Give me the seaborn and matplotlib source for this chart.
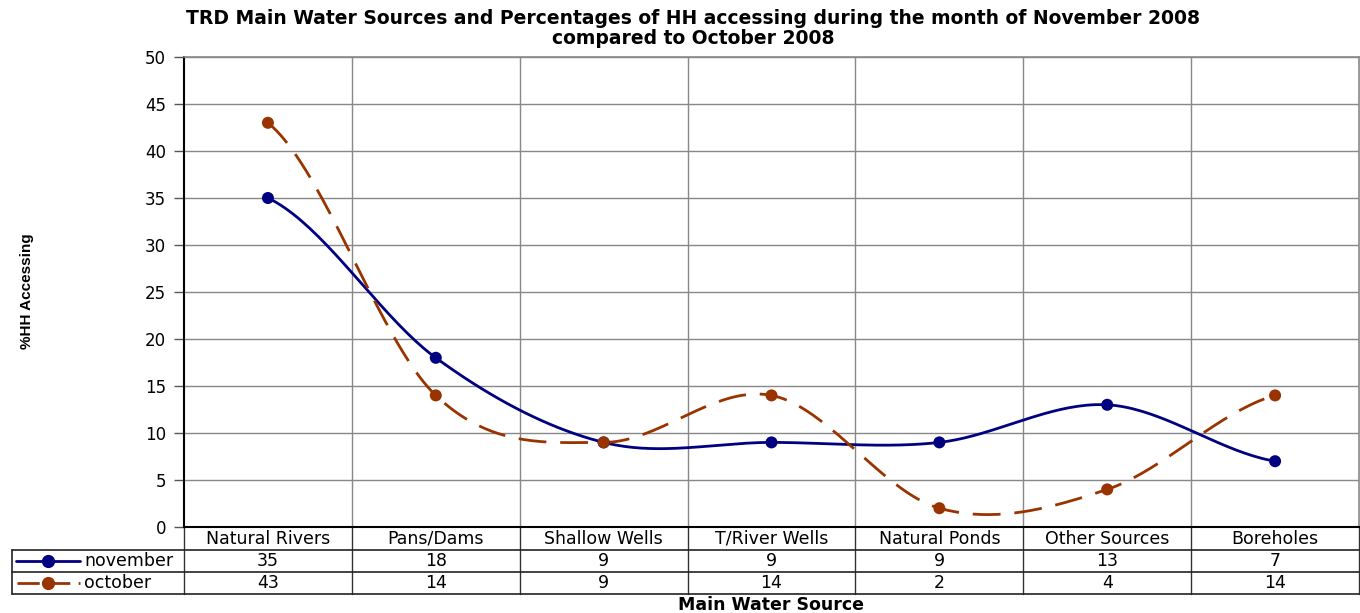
"""
TRD main water sources - November vs October 2008 (Excel-style smoothed lines + data table)
"""

import numpy as np
import pandas as pd
import matplotlib
matplotlib.use('Agg')
import matplotlib.pyplot as plt
import seaborn as sns

sns.set_style("white")
plt.rcParams['font.family'] = ['DejaVu Sans']
plt.rcParams['text.color'] = 'black'
plt.rcParams['ytick.labelcolor'] = 'black'

# Data
sources = ['Natural Rivers', 'Pans/Dams', 'Shallow Wells', 'T/River Wells',
           'Natural Ponds', 'Other Sources', 'Boreholes']
november = [35, 18, 9, 9, 9, 13, 7]
october = [43, 14, 9, 14, 2, 4, 14]
series_names = ['november', 'october']
y_ticks = [0, 5, 10, 15, 20, 25, 30, 35, 40, 45, 50]

nov_color = '#000080'
oct_color = '#993300'
oct_dash = (10, 5)


def smooth(values, steps=40):
    # Catmull-Rom curve through the points (Excel "smoothed line")
    p = np.asarray(values, dtype=float)
    n = len(p)
    ext = np.concatenate([[p[0]], p, [p[-1]]])
    xs, ys = [], []
    for i in range(n - 1):
        p0, p1, p2, p3 = ext[i], ext[i + 1], ext[i + 2], ext[i + 3]
        m1 = (p2 - p0) / 2.0
        m2 = (p3 - p1) / 2.0
        t = np.linspace(0, 1, steps, endpoint=(i == n - 2))
        h00 = 2 * t**3 - 3 * t**2 + 1
        h10 = t**3 - 2 * t**2 + t
        h01 = -2 * t**3 + 3 * t**2
        h11 = t**3 - t**2
        xs.append(i + t)
        ys.append(h00 * p1 + h10 * m1 + h01 * p2 + h11 * m2)
    return np.concatenate(xs), np.concatenate(ys)


fig = plt.figure(figsize=(13.6, 6.13), dpi=100)
ax = fig.add_axes([184 / 1360, 1 - 527 / 613, 1175 / 1360, 470 / 613])

x_pos = np.arange(len(sources))
pts = pd.DataFrame({'x': np.tile(x_pos, 2), 'value': november + october,
                    'series': np.repeat(series_names, len(sources))})

for name, vals, col, dash in [('november', november, nov_color, None),
                              ('october', october, oct_color, oct_dash)]:
    sx, sy = smooth(vals)
    curve = pd.DataFrame({'x': sx, 'y': sy})
    sns.lineplot(data=curve, x='x', y='y', ax=ax, color=col, linewidth=2,
                 estimator=None, sort=False, zorder=3)
    if dash:
        ax.lines[-1].set_dashes(dash)

sns.scatterplot(data=pts, x='x', y='value', hue='series',
                palette={'november': nov_color, 'october': oct_color},
                s=75, edgecolor='none', ax=ax, legend=False, zorder=4)

ax.set_xlim(-0.5, len(sources) - 0.5)
ax.set_ylim(0, 50)
ax.set_yticks(y_ticks)
ax.set_yticklabels([str(v) for v in y_ticks], fontsize=12, color='black')
ax.set_xticks([])
ax.tick_params(axis='y', direction='out', length=7, width=1, color='#555555', pad=6, left=True)
ax.set_xlabel('')
ax.set_ylabel('')

for y in y_ticks[1:]:
    ax.axhline(y, color='#888888', linewidth=1, zorder=1)
for xb in np.arange(0.5, len(sources) - 0.5, 1):
    ax.axvline(xb, color='#888888', linewidth=1, zorder=1)

for side in ['top', 'right']:
    ax.spines[side].set_color('#888888')
    ax.spines[side].set_linewidth(1.2)
ax.spines['left'].set_color('black')
ax.spines['left'].set_linewidth(1.5)
ax.spines['bottom'].set_color('black')
ax.spines['bottom'].set_linewidth(1.5)

# data table under the axis
tr = ax.get_xaxis_transform()
h = 470.0
row_lines = [-23 / h, -45 / h, -67 / h]
for i, name in enumerate(sources):
    ax.text(i, -11.5 / h, name, transform=tr, ha='center', va='center', fontsize=12.5)
    ax.text(i, -34 / h, str(november[i]), transform=tr, ha='center', va='center', fontsize=12.5)
    ax.text(i, -56 / h, str(october[i]), transform=tr, ha='center', va='center', fontsize=12.5)

for xb in np.arange(-0.5, len(sources) + 0.5, 1):
    ax.plot([xb, xb], [0, row_lines[-1]], transform=tr, color='#333333',
            linewidth=1, clip_on=False)

fx0 = 12 / 1360
fx1 = 1359 / 1360
for py in [550, 572, 594]:
    fig.add_artist(plt.Line2D([fx0, fx1], [1 - py / 613] * 2, color='#222222', linewidth=1.2))
fig.add_artist(plt.Line2D([fx0, fx0], [1 - 550 / 613, 1 - 594 / 613], color='#222222', linewidth=1.2))

# legend keys inside the table
for py, col, dash, label in [(561, nov_color, None, 'november'), (583, oct_color, (8, 3), 'october')]:
    yf = 1 - py / 613
    ln = plt.Line2D([16 / 1360, 80 / 1360], [yf, yf], color=col, linewidth=2)
    if dash:
        ln = plt.Line2D([17 / 1360, 80 / 1360], [yf, yf], color=col, linewidth=2, dashes=dash)
    fig.add_artist(ln)
    fig.add_artist(plt.Line2D([48 / 1360], [yf], marker='o', markersize=8.5,
                              color=col, markeredgecolor=col))
    fig.text(84 / 1360, yf, label, ha='left', va='center', fontsize=12.5)

fig.text(693 / 1360, 1 - 18 / 613,
         'TRD Main Water Sources and Percentages of HH accessing during the month of November 2008',
         ha='center', va='center', fontsize=13.5, fontweight='bold')
fig.text(693 / 1360, 1 - 39 / 613, 'compared to October 2008',
         ha='center', va='center', fontsize=13.5, fontweight='bold')
fig.text(771 / 1360, 1 - 605 / 613, 'Main Water Source', ha='center', va='center',
         fontsize=12.5, fontweight='bold')
fig.text(27 / 1360, 1 - 291 / 613, '%HH Accessing', ha='center', va='center',
         rotation=90, fontsize=11, fontweight='bold', family=['Liberation Sans'])

fig.savefig('out.png', dpi=100)
